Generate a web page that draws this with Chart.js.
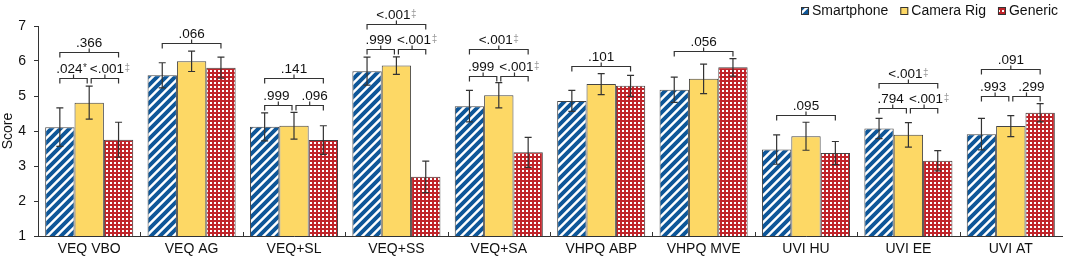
<!DOCTYPE html>
<html>
<head>
<meta charset="utf-8">
<script src="https://cdn.jsdelivr.net/npm/chart.js@4.4.0/dist/chart.umd.min.js"></script>
<style>
  html, body { margin: 0; padding: 0; background: #fff; overflow: hidden; }
  canvas { display: block; }
</style>
</head>
<body>
<canvas id="chart" width="1065" height="257"></canvas>
<script>
// Values
const categories = ["VEQ VBO", "VEQ AG", "VEQ+SL", "VEQ+SS", "VEQ+SA", "VHPQ ABP", "VHPQ MVE", "UVI HU", "UVI EE", "UVI AT"]
const smartphone = [4.11, 5.59, 4.12, 5.71, 4.71, 4.86, 5.18, 3.47, 4.07, 3.91]
const smartphoneErr = [0.55, 0.36, 0.40, 0.40, 0.45, 0.30, 0.36, 0.42, 0.29, 0.45]
const cameraRig = [4.81, 5.99, 4.15, 5.87, 5.02, 5.34, 5.49, 3.85, 3.89, 4.14]
const cameraRigErr = [0.47, 0.29, 0.38, 0.25, 0.36, 0.30, 0.42, 0.40, 0.35, 0.30]
const generic = [3.75, 5.81, 3.74, 2.69, 3.39, 5.29, 5.82, 3.37, 3.15, 4.52]
const genericErr = [0.50, 0.30, 0.41, 0.45, 0.43, 0.30, 0.25, 0.33, 0.29, 0.26]

// p-values: overall (Smartphone..Generic) and pairwise
const overallP = [".366", ".066", ".141", "<.001‡", "<.001‡", ".101", ".056", ".095", "<.001‡", ".091"]
const pairSC = [".024*", null, ".999", ".999", ".999", null, null, null, ".794", ".993"]
const pairCG = ["<.001‡", null, ".096", "<.001‡", "<.001‡", null, null, null, "<.001‡", ".299"]
// bracket levels (score units)
const bracketTop = [6.27, 6.52, 5.51, 7.05, 6.35, 5.86, 6.29, 4.46, 5.36, 5.76]
const bracketLow = [5.51, null, 4.73, 6.33, 5.57, null, null, null, 4.65, 5.01]

const yTicks = [1, 2, 3, 4, 5, 6, 7]

const FONT = "'Liberation Sans', Arial, sans-serif"
const INK = "#111"
const AXIS = "#333"

const canvas = document.getElementById("chart")
const ctx = canvas.getContext("2d")

function stripePattern(color) {
  const n = 9
  const t = document.createElement("canvas")
  t.width = n
  t.height = n
  const g = t.getContext("2d")
  g.fillStyle = "#fff"
  g.fillRect(0, 0, n, n)
  g.strokeStyle = color
  g.lineWidth = 3.9
  g.beginPath()
  g.moveTo(-n / 2, n / 2); g.lineTo(n / 2, -n / 2)
  g.moveTo(0, n); g.lineTo(n, 0)
  g.moveTo(n / 2, n * 1.5); g.lineTo(n * 1.5, n / 2)
  g.stroke()
  return ctx.createPattern(t, "repeat")
}

function checkPattern(color) {
  const t = document.createElement("canvas")
  t.width = 4
  t.height = 4
  const g = t.getContext("2d")
  g.fillStyle = color
  g.fillRect(0, 0, 4, 4)
  g.fillStyle = "#fff"
  g.fillRect(2, 2, 2, 2)
  return ctx.createPattern(t, "repeat")
}

const errors = [smartphoneErr, cameraRigErr, genericErr]

// error bars
const errorBars = {
  id: "errorBars",
  afterDatasetsDraw(chart) {
    const y = chart.scales.y
    const c = chart.ctx
    c.save()
    c.strokeStyle = "#333"
    c.lineWidth = 1.2
    chart.data.datasets.forEach((ds, di) => {
      chart.getDatasetMeta(di).data.forEach((bar, i) => {
        const v = ds.data[i]
        const e = errors[di][i]
        const top = y.getPixelForValue(v + e)
        const bot = y.getPixelForValue(v - e)
        c.beginPath()
        c.moveTo(bar.x, top); c.lineTo(bar.x, bot)
        c.moveTo(bar.x - 3.5, top); c.lineTo(bar.x + 3.5, top)
        c.moveTo(bar.x - 3.5, bot); c.lineTo(bar.x + 3.5, bot)
        c.stroke()
      })
    })
    c.restore()
  }
}

function drawLabel(c, text, cx, baseY) {
  const m = text.match(/[‡*]$/)
  const main = m ? text.slice(0, -1) : text
  const sup = m ? m[0] : ""
  c.font = "13.5px " + FONT
  const mw = c.measureText(main).width
  c.font = "10px " + FONT
  const sw = sup ? c.measureText(sup).width + 0.5 : 0
  const x0 = cx - (mw + sw) / 2
  c.textAlign = "left"
  c.textBaseline = "alphabetic"
  c.font = "13.5px " + FONT
  c.fillStyle = INK
  c.fillText(main, x0, baseY)
  if (sup) {
    c.font = "10px " + FONT
    c.fillStyle = sup === "‡" ? "#999" : "#333"
    c.fillText(sup, x0 + mw + 0.5, baseY - 2)
  }
}

function drawBracket(c, x1, x2, py) {
  const mid = (x1 + x2) / 2
  c.beginPath()
  c.moveTo(x1, py + 5); c.lineTo(x1, py); c.lineTo(x2, py); c.lineTo(x2, py + 5)
  c.moveTo(mid, py); c.lineTo(mid, py - 4)
  c.stroke()
}

// significance brackets
const brackets = {
  id: "brackets",
  afterDatasetsDraw(chart) {
    const y = chart.scales.y
    const c = chart.ctx
    const s = chart.getDatasetMeta(0).data
    const cr = chart.getDatasetMeta(1).data
    const g = chart.getDatasetMeta(2).data
    c.save()
    c.strokeStyle = "#333"
    c.lineWidth = 1.2
    categories.forEach((cat, i) => {
      const py = Math.round(y.getPixelForValue(bracketTop[i])) + 0.5
      drawBracket(c, s[i].x, g[i].x, py)
      drawLabel(c, overallP[i], (s[i].x + g[i].x) / 2, py - 6)
      if (bracketLow[i] != null) {
        const ly = Math.round(y.getPixelForValue(bracketLow[i])) + 0.5
        drawBracket(c, s[i].x, cr[i].x - 2, ly)
        drawBracket(c, cr[i].x + 2, g[i].x, ly)
        drawLabel(c, pairSC[i], (s[i].x + cr[i].x - 2) / 2 - 2, ly - 6)
        drawLabel(c, pairCG[i], (cr[i].x + 2 + g[i].x) / 2 + 5, ly - 6)
      }
    })
    c.restore()
  }
}

// small inward ticks between categories on the x axis
const categoryTicks = {
  id: "categoryTicks",
  afterDraw(chart) {
    const x = chart.scales.x
    const bottom = chart.chartArea.bottom
    const c = chart.ctx
    c.save()
    c.strokeStyle = AXIS
    c.lineWidth = 1
    for (let i = 1; i < categories.length; i++) {
      const px = Math.round((x.getPixelForTick(i - 1) + x.getPixelForTick(i)) / 2) + 0.5
      c.beginPath()
      c.moveTo(px, bottom)
      c.lineTo(px, bottom - 4)
      c.stroke()
    }
    c.restore()
  }
}

// legend in the top right corner
const cornerLegend = {
  id: "cornerLegend",
  afterDraw(chart) {
    const c = chart.ctx
    c.save()
    c.font = "14px " + FONT
    c.textBaseline = "middle"
    c.textAlign = "left"
    let x = 1058
    const cy = 11
    const items = chart.data.datasets.slice().reverse()
    items.forEach((ds) => {
      const w = c.measureText(ds.label).width
      x -= w
      c.fillStyle = INK
      c.fillText(ds.label, x, cy)
      x -= 11
      c.fillStyle = ds.backgroundColor
      c.fillRect(x, cy - 4, 8, 8)
      c.strokeStyle = "#333"
      c.lineWidth = 1
      c.strokeRect(x + 0.5, cy - 3.5, 7, 7)
      x -= 12
    })
    c.restore()
  }
}

new Chart(canvas, {
  type: "bar",
  data: {
    labels: categories,
    datasets: [
      { label: "Smartphone", data: smartphone, backgroundColor: stripePattern("#0e5698") },
      { label: "Camera Rig", data: cameraRig, backgroundColor: "#fdd865" },
      { label: "Generic", data: generic, backgroundColor: checkPattern("#c0242a") },
    ].map((d) => Object.assign(d, { borderColor: "#444", borderWidth: 1, borderSkipped: "bottom" })),
  },
  options: {
    responsive: false,
    animation: false,
    devicePixelRatio: 1,
    layout: { padding: { top: 26, right: 3, left: 0, bottom: 0 } },
    datasets: { bar: { categoryPercentage: 0.86, barPercentage: 1 } },
    plugins: {
      legend: { display: false },
      tooltip: { enabled: false },
    },
    scales: {
      x: {
        grid: { display: false, drawTicks: false },
        border: { color: AXIS, width: 1 },
        ticks: { color: INK, font: { family: FONT, size: 14 }, padding: 5, maxRotation: 0, autoSkip: false },
        afterFit: (s) => { s.height = 21 },
      },
      y: {
        min: 1,
        max: 7,
        afterBuildTicks: (s) => {
          const t = []
          yTicks.forEach((v, k) => {
            t.push({ value: v })
            if (k < yTicks.length - 1) t.push({ value: v + 0.5 })
          })
          s.ticks = t
        },
        ticks: {
          color: INK,
          font: { family: FONT, size: 14 },
          padding: 8,
          callback: (v) => (Number.isInteger(v) ? v : ""),
        },
        grid: { drawOnChartArea: false, tickLength: 4, color: AXIS },
        border: { color: AXIS, width: 1 },
        title: { display: true, text: "Score", color: INK, font: { family: FONT, size: 14 }, padding: 0 },
        afterFit: (s) => { s.width = 38 },
      },
    },
  },
  plugins: [errorBars, brackets, categoryTicks, cornerLegend],
})
</script>
</body>
</html>
